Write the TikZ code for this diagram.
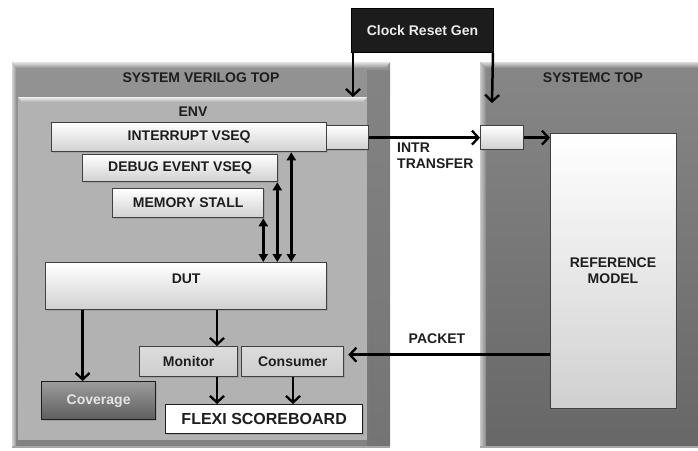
\documentclass[tikz,border=0pt]{standalone}
\usepackage{fontspec}
\setmainfont{Liberation Sans}
\usetikzlibrary{arrows.meta,shadows,calc}

\definecolor{inktxt}{HTML}{1E1E1E}
\definecolor{svtopc}{HTML}{939393}
\definecolor{svbotc}{HTML}{828282}
\definecolor{envc}{HTML}{B2B2B2}
\definecolor{sctopc}{HTML}{878787}
\definecolor{scbotc}{HTML}{676767}
\definecolor{boxlow}{HTML}{D0D0D0}
\definecolor{smallc}{HTML}{CDCDCD}
\definecolor{covtop}{HTML}{9C9C9C}
\definecolor{covbot}{HTML}{5E5E5E}

\tikzset{
  lbl/.style={font=\bfseries\fontsize{14}{16}\selectfont, text=inktxt, inner sep=0pt},
  frame/.style={draw=none, inner sep=0pt, anchor=north west},
  shade3d/.style={draw=inktxt!85, line width=1.3pt, inner sep=0pt, anchor=north west,
    top color=white, bottom color=boxlow,
    drop shadow={shadow xshift=1.5pt, shadow yshift=-1.5pt, opacity=0.35}},
  flatbox/.style={draw=inktxt!85, line width=1.3pt, inner sep=0pt, anchor=north west,
    top color=smallc!70!white, bottom color=smallc,
    drop shadow={shadow xshift=1.5pt, shadow yshift=-1.5pt, opacity=0.35}},
  arr/.style={line width=2.5pt, -{Straight Barb[length=6.5pt,width=14pt,line width=2.3pt]}},
  dbl/.style={line width=2.5pt, {Triangle[length=8pt,width=9pt]}-{Triangle[length=8pt,width=9pt]}},
}

\begin{document}
\begin{tikzpicture}[x=1pt, y=-1pt]
\useasboundingbox (0,0) rectangle (698,450);
\fill[white] (0,0) rectangle (698,450);

% ---- outer containers ----
\node[frame, minimum width=378pt, minimum height=384pt,
      top color=svtopc, bottom color=svbotc] (sv) at (12,62) {};
\fill[black, opacity=0.10] (367,70) rectangle (390,446);
\shade[top color=white!75!svtopc, bottom color=svtopc] (12,62) -- (390,62) -- (386,68) -- (16,68) -- cycle;
\shade[left color=white!60!svtopc, right color=svtopc] (12,62) -- (16,68) -- (16,446) -- (12,446) -- cycle;

\node[frame, minimum width=218pt, minimum height=384pt,
      top color=sctopc, bottom color=scbotc] (sc) at (480,62) {};
\shade[top color=white!70!sctopc, bottom color=sctopc] (480,62) -- (698,62) -- (698,68) -- (486,68) -- cycle;
\shade[left color=white!55!sctopc, right color=sctopc] (480,62) -- (486,68) -- (486,446) -- (480,446) -- cycle;
\fill[gray!70] (12,446) rectangle (390,448);
\fill[gray!70] (480,446) rectangle (698,448);

\node[frame, minimum width=349pt, minimum height=343pt, fill=envc,
      drop shadow={shadow xshift=2pt, shadow yshift=-2pt, opacity=0.3}] (env) at (18,97) {};
\shade[top color=white!80!envc, bottom color=envc] (18,97) -- (367,97) -- (363,102) -- (22,102) -- cycle;

% ---- titles ----
\node[lbl] at (201,78) {SYSTEM VERILOG TOP};
\node[lbl] at (593,78) {SYSTEMC TOP};
\node[lbl] at (193,112) {ENV};

% ---- clock / reset generator ----
\node[frame, draw=black, line width=1pt, fill=inktxt!95!black, minimum width=142pt, minimum height=44pt] (clk) at (351,8) {};
\node[lbl, text=white!92!black] at (clk.center) {Clock Reset Gen};

% ---- verification blocks ----
\node[shade3d, minimum width=275pt, minimum height=29pt] (intr) at (51,122) {};
\node[lbl] at (intr.center) {INTERRUPT VSEQ};
\node[shade3d, minimum width=42pt, minimum height=24pt] (intrport) at (326,125) {};
\node[shade3d, minimum width=195pt, minimum height=27pt] (dbg) at (82,154) {};
\node[lbl] at (dbg.center) {DEBUG EVENT VSEQ};
\node[shade3d, minimum width=151pt, minimum height=29pt] (mem) at (112,188) {};
\node[lbl] at (mem.center) {MEMORY STALL};
\node[shade3d, minimum width=281pt, minimum height=47pt] (dut) at (45,262) {};
\node[lbl] at ($(dut.north)+(0,17)$) {DUT};

\node[flatbox, minimum width=98pt, minimum height=30pt] (mon) at (139,346) {};
\node[lbl] at (mon.center) {Monitor};
\node[flatbox, minimum width=102pt, minimum height=30pt] (cons) at (241,346) {};
\node[lbl] at (cons.center) {Consumer};

\node[frame, draw=inktxt, line width=1.3pt, top color=covtop, bottom color=covbot,
      minimum width=114pt, minimum height=38pt,
      drop shadow={shadow xshift=1.5pt, shadow yshift=-1.5pt, opacity=0.35}] (cov) at (41,381) {};
\node[lbl, text=white!90!black] at (cov.center) {Coverage};

\node[frame, draw=inktxt, line width=1.3pt, fill=white, minimum width=197pt, minimum height=29pt,
      drop shadow={shadow xshift=1.5pt, shadow yshift=-1.5pt, opacity=0.35}] (flexi) at (165,404) {};
\node[lbl, font=\bfseries\fontsize{16}{18}\selectfont] at (flexi.center) {FLEXI SCOREBOARD};

% ---- SystemC side ----
\node[shade3d, minimum width=43pt, minimum height=24pt] (scport) at (480,125) {};
\node[shade3d, minimum width=126pt, minimum height=275pt] (ref) at (550,133) {};
\node[lbl, align=center] at (613,271) {REFERENCE\\MODEL};

% ---- connectors ----
\draw[arr] ([xshift=2pt]clk.south west) -- ([xshift=2pt]clk.south west |- env.north);
\coordinate (scin) at (492,103);
\draw[arr] ([xshift=-1pt]clk.south east) -- (scin);

\draw[arr] (intrport.east) -- (scport.west);
\draw[arr] (scport.east) -- (scport.east -| ref.west);
\node[lbl, align=left, anchor=north west] at (397,143) {INTR\\TRANSFER};

\draw[dbl] ([xshift=-1pt]mem.south east) -- ([xshift=-1pt]mem.south east |- dut.north);
\draw[dbl] ([xshift=-1pt]dbg.south east) -- ([xshift=-1pt]dbg.south east |- dut.north);
\draw[dbl] ([xshift=-36pt]intr.south east) -- ([xshift=-36pt]intr.south east |- dut.north);

\draw[arr] (dut.south -| cov.north) ++(-16,0) coordinate (dc) -- (dc |- cov.north);
\draw[arr] (dut.south -| 217,0) -- (mon.north -| 217,0);
\draw[arr] (mon.south -| 217,0) -- (flexi.north -| 217,0);
\draw[arr] (cons.south -| 293,0) -- (flexi.north -| 293,0);

\draw[arr, shorten >=4pt] ([yshift=7pt]cons.east -| ref.west) -- ([yshift=7pt]cons.east);
\node[lbl] at (437,339) {PACKET};
\end{tikzpicture}
\end{document}
